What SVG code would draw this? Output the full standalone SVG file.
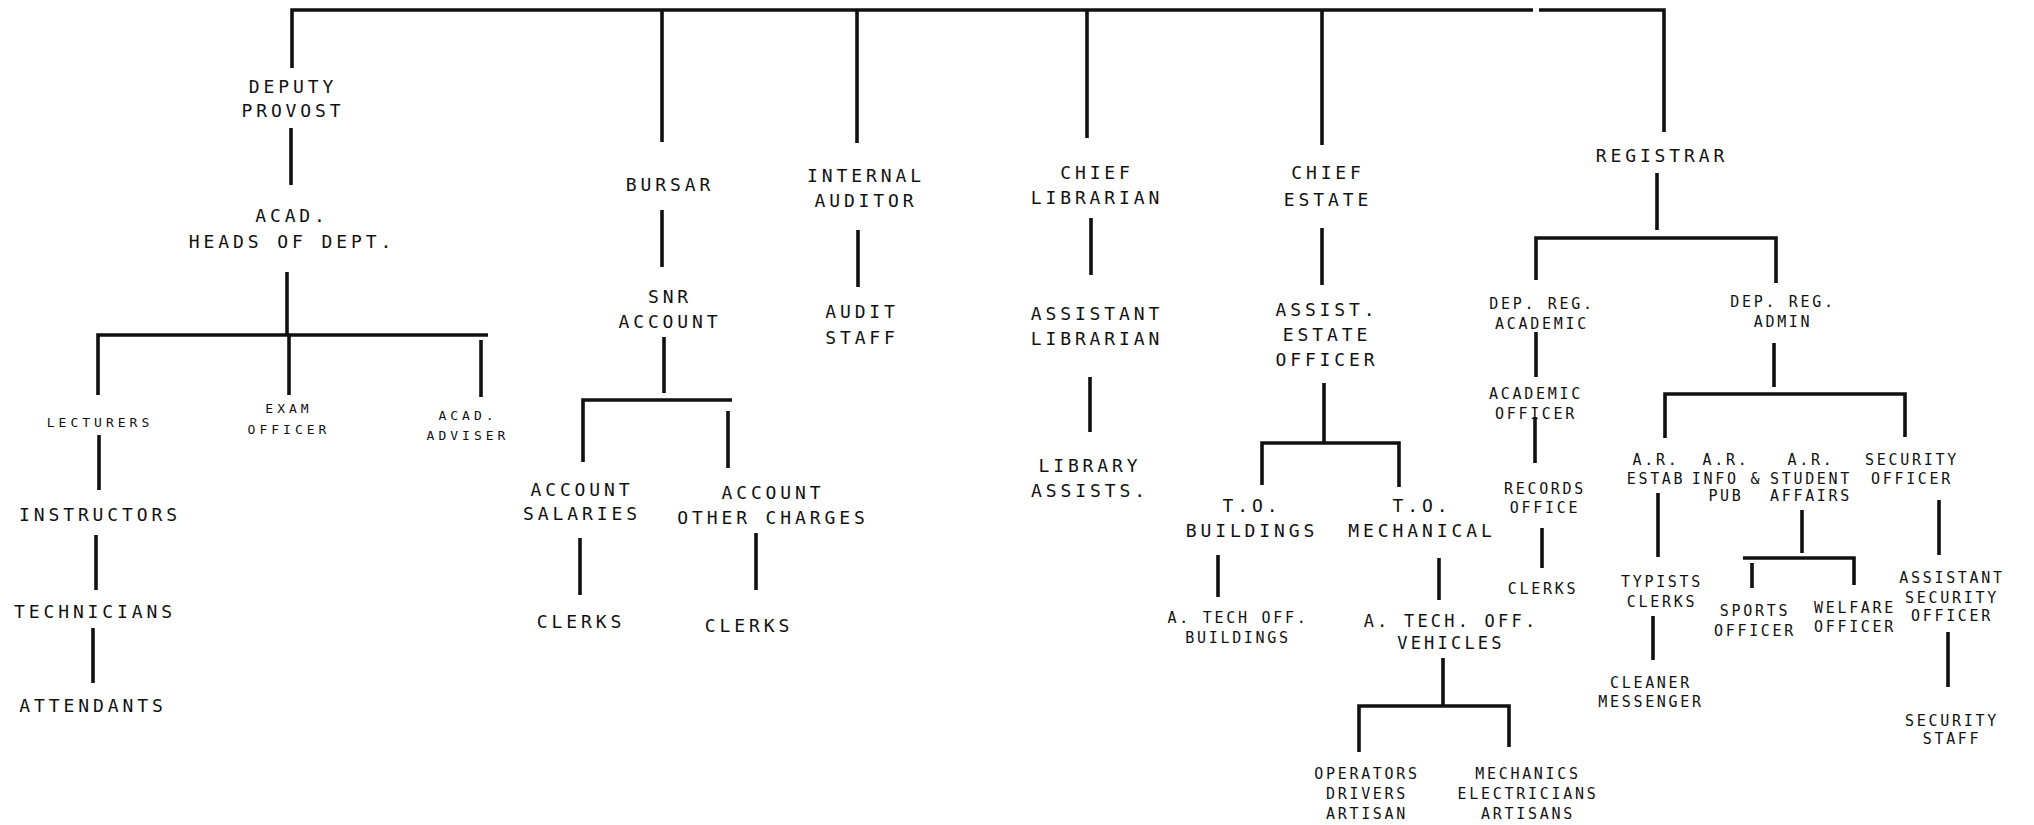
<svg xmlns="http://www.w3.org/2000/svg" width="2034" height="825" viewBox="0 0 2034 825">
<style>
text{font-family:"DejaVu Sans Mono","Liberation Mono",monospace;fill:#111;text-anchor:middle}
.L{font-size:18px;letter-spacing:3.9px}
.M{font-size:17px;letter-spacing:3.2px}
.S{font-size:15px;letter-spacing:2.7px}
.T{font-size:13px;letter-spacing:4px}
#connectors path{fill:none;stroke:#111;stroke-width:3.6;stroke-linecap:butt;stroke-linejoin:miter}
</style>
<rect width="2034" height="825" fill="#fff"/>
<g id="connectors">
<path d="M292 68 V10 H1533"/>
<path d="M1539 10 H1664 V132"/>
<path d="M662 10 V142"/>
<path d="M857 10 V143"/>
<path d="M1087 9 V138"/>
<path d="M1322 9 V145"/>
<path d="M291 128 V185"/>
<path d="M287 272 V335"/>
<path d="M98 395 V335 H488"/>
<path d="M289 335 V395"/>
<path d="M481 340 V397"/>
<path d="M99 435 V490"/>
<path d="M96 535 V590"/>
<path d="M93 628 V683"/>
<path d="M662 210 V267"/>
<path d="M664 337 V393"/>
<path d="M583 462 V400 H732"/>
<path d="M728 411 V468"/>
<path d="M580 538 V595"/>
<path d="M756 533 V590"/>
<path d="M858 230 V287"/>
<path d="M1091 218 V275"/>
<path d="M1090 377 V432"/>
<path d="M1322 228 V285"/>
<path d="M1324 383 V443"/>
<path d="M1262 485 V443 H1399 V487"/>
<path d="M1218 555 V597"/>
<path d="M1439 558 V600"/>
<path d="M1443 658 V706"/>
<path d="M1359 752 V706 H1509 V747"/>
<path d="M1657 173 V230"/>
<path d="M1536 280 V238 H1776 V283"/>
<path d="M1536 332 V377"/>
<path d="M1535 417 V463"/>
<path d="M1542 528 V568"/>
<path d="M1774 343 V387"/>
<path d="M1665 438 V394 H1905 V437"/>
<path d="M1658 493 V557"/>
<path d="M1653 616 V660"/>
<path d="M1802 510 V553"/>
<path d="M1743 558 H1854 V585"/>
<path d="M1752 563 V588"/>
<path d="M1939 500 V555"/>
<path d="M1948 632 V687"/>
</g>
<g id="deputy-provost"><text class="L"><tspan x="293" y="92.5">DEPUTY</tspan><tspan x="293" y="116.5">PROVOST</tspan></text></g>
<g id="acad-heads"><text class="L"><tspan x="292" y="221.5">ACAD.</tspan><tspan x="292" y="247.5">HEADS OF DEPT.</tspan></text></g>
<g id="lecturers"><text class="T" x="100" y="426.7">LECTURERS</text></g>
<g id="exam-officer"><text class="T"><tspan x="289" y="412.7">EXAM</tspan><tspan x="289" y="433.7">OFFICER</tspan></text></g>
<g id="acad-adviser"><text class="T"><tspan x="468" y="419.7">ACAD.</tspan><tspan x="468" y="439.7">ADVISER</tspan></text></g>
<g id="instructors"><text class="L" x="100" y="520.5">INSTRUCTORS</text></g>
<g id="technicians"><text class="L" x="95" y="617.5">TECHNICIANS</text></g>
<g id="attendants"><text class="L" x="93" y="711.5">ATTENDANTS</text></g>
<g id="bursar"><text class="L" x="670" y="190.5">BURSAR</text></g>
<g id="snr-account"><text class="L"><tspan x="670" y="302.5">SNR</tspan><tspan x="670" y="327.5">ACCOUNT</tspan></text></g>
<g id="account-salaries"><text class="L"><tspan x="582" y="495.5">ACCOUNT</tspan><tspan x="582" y="519.5">SALARIES</tspan></text></g>
<g id="account-other"><text class="L"><tspan x="773" y="498.5">ACCOUNT</tspan><tspan x="773" y="523.5">OTHER CHARGES</tspan></text></g>
<g id="clerks-salaries"><text class="L" x="581" y="627.5">CLERKS</text></g>
<g id="clerks-other"><text class="L" x="749" y="631.5">CLERKS</text></g>
<g id="internal-auditor"><text class="L"><tspan x="866" y="181.5">INTERNAL</tspan><tspan x="866" y="206.5">AUDITOR</tspan></text></g>
<g id="audit-staff"><text class="L"><tspan x="862" y="317.5">AUDIT</tspan><tspan x="862" y="343.5">STAFF</tspan></text></g>
<g id="chief-librarian"><text class="L"><tspan x="1097" y="178.5">CHIEF</tspan><tspan x="1097" y="203.5">LIBRARIAN</tspan></text></g>
<g id="assistant-librarian"><text class="L"><tspan x="1097" y="319.5">ASSISTANT</tspan><tspan x="1097" y="344.5">LIBRARIAN</tspan></text></g>
<g id="library-assists"><text class="L"><tspan x="1090" y="471.5">LIBRARY</tspan><tspan x="1090" y="496.5">ASSISTS.</tspan></text></g>
<g id="chief-estate"><text class="L"><tspan x="1328" y="178.5">CHIEF</tspan><tspan x="1328" y="205.5">ESTATE</tspan></text></g>
<g id="assist-estate-officer"><text class="L"><tspan x="1327" y="315.5">ASSIST.</tspan><tspan x="1327" y="340.5">ESTATE</tspan><tspan x="1327" y="365.5">OFFICER</tspan></text></g>
<g id="to-buildings"><text class="L"><tspan x="1252" y="511.5">T.O.</tspan><tspan x="1252" y="536.5">BUILDINGS</tspan></text></g>
<g id="to-mechanical"><text class="L"><tspan x="1422" y="511.5">T.O.</tspan><tspan x="1422" y="536.5">MECHANICAL</tspan></text></g>
<g id="atech-buildings"><text class="S"><tspan x="1238" y="622.5">A. TECH  OFF.</tspan><tspan x="1238" y="642.5">BUILDINGS</tspan></text></g>
<g id="atech-vehicles"><text class="M"><tspan x="1451" y="627.2">A. TECH. OFF.</tspan><tspan x="1451" y="649.2">VEHICLES</tspan></text></g>
<g id="operators"><text class="S"><tspan x="1367" y="778.5">OPERATORS</tspan><tspan x="1367" y="798.5">DRIVERS</tspan><tspan x="1367" y="818.5">ARTISAN</tspan></text></g>
<g id="mechanics"><text class="S"><tspan x="1528" y="778.5">MECHANICS</tspan><tspan x="1528" y="798.5">ELECTRICIANS</tspan><tspan x="1528" y="818.5">ARTISANS</tspan></text></g>
<g id="registrar"><text class="L" x="1662" y="161.5">REGISTRAR</text></g>
<g id="dep-reg-academic"><text class="S"><tspan x="1542" y="308.5">DEP. REG.</tspan><tspan x="1542" y="328.5">ACADEMIC</tspan></text></g>
<g id="academic-officer"><text class="S"><tspan x="1536" y="398.5">ACADEMIC</tspan><tspan x="1536" y="418.5">OFFICER</tspan></text></g>
<g id="records-office"><text class="S"><tspan x="1545" y="493.5">RECORDS</tspan><tspan x="1545" y="512.5">OFFICE</tspan></text></g>
<g id="clerks-records"><text class="S" x="1543" y="593.5">CLERKS</text></g>
<g id="dep-reg-admin"><text class="S"><tspan x="1783" y="306.5">DEP. REG.</tspan><tspan x="1783" y="326.5">ADMIN</tspan></text></g>
<g id="ar-estab"><text class="S"><tspan x="1656" y="464.5">A.R.</tspan><tspan x="1656" y="483.5">ESTAB</tspan></text></g>
<g id="ar-info-pub"><text class="S"><tspan x="1726" y="464.5">A.R.</tspan><tspan x="1727" y="483.5">INFO &amp;</tspan><tspan x="1726" y="500.5">PUB</tspan></text></g>
<g id="ar-student-affairs"><text class="S"><tspan x="1811" y="464.5">A.R.</tspan><tspan x="1811" y="483.5">STUDENT</tspan><tspan x="1811" y="500.5">AFFAIRS</tspan></text></g>
<g id="security-officer"><text class="S"><tspan x="1912" y="464.5">SECURITY</tspan><tspan x="1912" y="483.5">OFFICER</tspan></text></g>
<g id="typists-clerks"><text class="S"><tspan x="1662" y="586.5">TYPISTS</tspan><tspan x="1662" y="606.5">CLERKS</tspan></text></g>
<g id="cleaner-messenger"><text class="S"><tspan x="1651" y="687.5">CLEANER</tspan><tspan x="1651" y="706.5">MESSENGER</tspan></text></g>
<g id="sports-officer"><text class="S"><tspan x="1755" y="615.5">SPORTS</tspan><tspan x="1755" y="635.5">OFFICER</tspan></text></g>
<g id="welfare-officer"><text class="S"><tspan x="1855" y="612.5">WELFARE</tspan><tspan x="1855" y="631.5">OFFICER</tspan></text></g>
<g id="assistant-security-officer"><text class="S"><tspan x="1952" y="582.5">ASSISTANT</tspan><tspan x="1952" y="602.5">SECURITY</tspan><tspan x="1952" y="620.5">OFFICER</tspan></text></g>
<g id="security-staff"><text class="S"><tspan x="1952" y="725.5">SECURITY</tspan><tspan x="1952" y="743.5">STAFF</tspan></text></g>
</svg>
